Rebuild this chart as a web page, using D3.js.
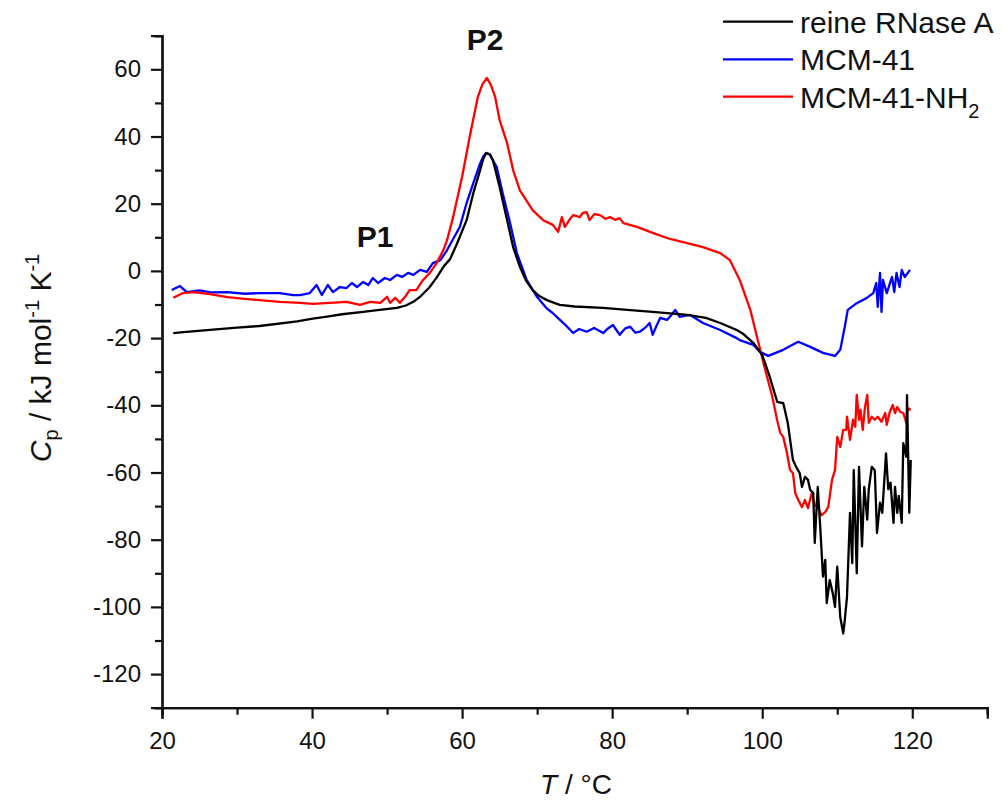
<!DOCTYPE html>
<html>
<head>
<meta charset="utf-8">
<script src="https://cdn.jsdelivr.net/npm/d3@7"></script>
<style>
  body { margin: 0; background: #fff; }
  svg { display: block; font-family: "Liberation Sans", Arial, sans-serif; }
</style>
</head>
<body>
<div id="chart"></div>
<script>
// reine RNase A
var tBlack = [21.5, 22.5, 26, 30, 33, 38, 40.1, 42, 44, 46.8, 49, 51.3, 52.5, 53.5, 54.4, 55.6, 56.6, 57.6, 58.4, 59.3, 60.6, 61.5, 62.4, 62.8, 63.2, 63.7, 64.1, 65, 66, 66.8, 67.7, 68.5, 69.4, 70.3, 71.3, 73, 75, 78.8, 82, 85.4, 90, 92.5, 94.4, 96.6, 97.5, 98.8, 100, 101, 102, 102.6, 102.8, 103.4, 104.1, 104.6, 105, 105.3, 105.7, 106.1, 106.4, 106.8, 107, 107.4, 107.7, 108.1, 108.4, 108.6, 109, 109.4, 109.7, 110, 110.4, 110.8, 111, 111.3, 111.7, 112, 112.2, 112.6, 112.9, 113.3, 113.6, 114, 114.2, 114.6, 115, 115.3, 115.7, 116, 116.5, 116.8, 117.1, 117.5, 117.7, 118, 118.2, 118.6, 118.8, 119.2, 119.3, 119.6, 119.8];
var cpBlack = [-18.5, -18.3, -17.6, -16.9, -16.4, -15, -14.2, -13.6, -12.9, -12.2, -11.6, -11, -10.3, -9.2, -7.7, -5, -2, 1.5, 3.5, 8, 15.1, 23.2, 30, 33.2, 35.1, 34.7, 33, 25, 15.1, 7.1, 1.2, -2.8, -5.7, -7.5, -8.7, -10.1, -10.6, -11, -11.6, -12.2, -13.1, -14, -15.5, -17.6, -18.8, -21.4, -25, -31.5, -39, -39.3, -39.3, -45.2, -56.3, -58.7, -60.2, -64.3, -61.3, -62.2, -65.2, -66.1, -81, -64.3, -75, -91, -86, -98.9, -92, -95.9, -100, -88, -103, -107.9, -104, -97, -72, -87, -59.3, -90, -58.3, -82, -64.3, -74, -65, -58.3, -59.3, -78, -69, -72, -54.3, -65, -63, -75, -64.3, -72, -67, -75, -51.3, -55.3, -37, -72, -56.3];

// MCM-41
var tBlue = [21.3, 22.4, 23.3, 25, 26.5, 28.7, 31, 33, 35.7, 37.5, 38.4, 39.7, 40.6, 41.3, 42.1, 42.8, 43.7, 44.6, 45.3, 46, 46.8, 47.5, 48.1, 48.8, 49.7, 50.4, 51.3, 52, 52.8, 53.5, 54.4, 55.3, 56.1, 57.1, 58, 58.8, 59.7, 60.6, 61.5, 62.4, 62.8, 63.2, 63.7, 64.2, 64.6, 65.4, 66.4, 67.3, 68.6, 70, 71.2, 72.1, 73, 74, 74.8, 75.6, 76.6, 77.6, 78.8, 79.4, 80.1, 81, 81.7, 82.4, 83.1, 83.7, 84.4, 85, 85.4, 85.9, 86.4, 87.3, 87.9, 88.4, 89, 90.4, 92.1, 94.4, 96.6, 97, 98.8, 99.7, 100.8, 102.8, 104.8, 106.4, 108.1, 109.7, 110.4, 111, 111.4, 112.6, 113.9, 114.8, 115.2, 115.4, 115.7, 115.9, 116.1, 116.6, 117.3, 117.6, 117.9, 118.3, 118.6, 119, 119.7];
var cpBlue = [-5.7, -4.5, -6.3, -5.8, -6.4, -6.3, -6.8, -6.6, -6.6, -7.2, -7.2, -6.6, -4.2, -7.2, -4.2, -6.3, -4.8, -5.1, -3.6, -4.8, -3.3, -4.2, -2.1, -3.6, -2.1, -2.7, -1.2, -1.8, -0.6, -1.2, 0.3, -0.3, 2.3, 3.2, 6.2, 9.5, 13.1, 20.2, 26.2, 32, 34, 35.1, 34.6, 32.5, 31, 23.2, 14.2, 5.3, -2.7, -7.8, -11, -12.6, -14.5, -16.6, -18.5, -17.3, -18.1, -17, -18.5, -17.2, -16.1, -19, -17.2, -16.6, -18.4, -18.1, -16.9, -15.5, -19, -16.4, -14, -14.6, -13.1, -11.6, -13.7, -13.1, -15.5, -17.6, -20, -20.6, -22, -24.1, -25.3, -23.5, -21.1, -22.6, -24.4, -25.3, -23.5, -16.7, -11.6, -9.6, -8.1, -6.6, -3.6, -10.7, -0.6, -12.2, -2.7, -6.6, -1.8, -6.3, -0.6, -4.8, 0.3, -1.8, 0.3];

// MCM-41-NH2
var tRed = [21.5, 22.8, 24.2, 26.4, 28.7, 31, 33, 35.7, 38.4, 40.1, 42.4, 44.6, 46.4, 47.7, 49.1, 50, 50.4, 51.1, 51.7, 52.4, 53, 53.9, 54.8, 55.7, 56.6, 57.5, 58, 58.8, 60, 61, 62.1, 62.7, 63.3, 63.8, 64.4, 65, 66, 66.8, 67.7, 69.4, 70.8, 72.1, 72.8, 73.3, 73.7, 74.3, 74.8, 75.7, 76.1, 76.6, 77, 77.6, 78.4, 79.1, 79.7, 80.4, 81, 81.5, 83.3, 85.4, 87.7, 90, 92.1, 94.4, 95.7, 97, 98.4, 99.5, 100.4, 101.3, 102, 102.4, 102.8, 103.3, 103.7, 104.1, 104.4, 104.8, 105.3, 105.7, 106.1, 106.6, 107, 107.4, 107.9, 108.4, 108.8, 109.3, 109.7, 110, 110.4, 110.8, 111.2, 111.3, 111.7, 112.1, 112.4, 112.6, 112.9, 113.1, 113.4, 113.7, 114, 114.2, 114.6, 115, 115.4, 115.9, 116.4, 116.6, 117, 117.4, 117.7, 118, 118.4, 118.8, 119.2, 119.4, 119.8];
var cpRed = [-8, -6.6, -6.3, -6.9, -7.8, -8.3, -8.7, -9.2, -9.5, -9.8, -9.5, -9.2, -10.1, -9.2, -9.5, -7.7, -9.5, -8, -9.5, -7.7, -5.7, -5.7, -2.7, -0.6, 2.3, 6.2, 9.2, 16, 28, 39.8, 51.8, 55.5, 57.4, 55.5, 51.8, 44.9, 38, 30, 24, 18.1, 15.1, 13.7, 11.6, 16, 13.1, 15.2, 16.6, 16, 17.3, 17.5, 15.1, 16.9, 16.6, 15.5, 16, 15.2, 15.7, 14.2, 13.1, 11.3, 9.5, 8.3, 7.1, 5.3, 3.2, -2.7, -11.5, -21.4, -29.5, -37, -44.5, -48.2, -49.4, -54.2, -59.2, -60.2, -66.1, -68.2, -70.3, -68.2, -70.6, -66.1, -69.7, -70.3, -72.7, -71.8, -70.3, -62.2, -59.3, -49.4, -52.4, -47.3, -47.3, -43.4, -50.3, -44.3, -46.4, -36.9, -44.3, -41.4, -47.3, -40.5, -36.9, -45.2, -43.4, -44.3, -43.4, -44.9, -42.3, -45.8, -42, -39.9, -42.3, -40.5, -42, -42.3, -45.2, -40.8, -41.4];

var seriesNames = ["reine RNase A", "MCM-41", "MCM-41-NH"];
var seriesColors = ["#000000", "#0000ff", "#ff0000"];
var xTicks = [20, 40, 60, 80, 100, 120];
var yTicks = [-120, -100, -80, -60, -40, -20, 0, 20, 40, 60];

var W = 1005, H = 801;
var svg = d3.select("#chart").append("svg").attr("width", W).attr("height", H);

var x = d3.scaleLinear().domain([20, 130]).range([162, 987.3]);
var y = d3.scaleLinear().domain([-130, 70]).range([707.7, 35.7]);

var series = [
  {t: tBlack, v: cpBlack},
  {t: tBlue, v: cpBlue},
  {t: tRed, v: cpRed}
];

var line = d3.line().x(function(d){ return x(d[0]); }).y(function(d){ return y(d[1]); });

// blue first, red next, black on top
[1, 2, 0].forEach(function(i){
  var pts = series[i].t.map(function(t, j){ return [t, series[i].v[j]]; });
  svg.append("path")
    .datum(pts)
    .attr("d", line)
    .attr("fill", "none")
    .attr("stroke", seriesColors[i])
    .attr("stroke-width", 2.3)
    .attr("stroke-linejoin", "round");
});

var fmt = function(d){ return String(d); }; // plain hyphen minus like the original

// minor ticks, then major ticks with labels, each in its own group
svg.append("g").attr("transform", "translate(0," + y(-130) + ")")
  .call(d3.axisBottom(x).tickValues(d3.range(30, 131, 20)).tickSize(7).tickFormat(""));
svg.append("g").attr("transform", "translate(0," + y(-130) + ")")
  .call(d3.axisBottom(x).tickValues(xTicks).tickSize(11).tickPadding(13).tickFormat(fmt));
svg.append("g").attr("transform", "translate(" + x(20) + ",0)")
  .call(d3.axisLeft(y).tickValues(d3.range(-130, 71, 20)).tickSize(7).tickFormat(""));
svg.append("g").attr("transform", "translate(" + x(20) + ",0)")
  .call(d3.axisLeft(y).tickValues(yTicks).tickSize(11).tickPadding(10).tickFormat(fmt));

svg.selectAll(".domain").attr("stroke", "#111").attr("stroke-width", 2.2);
svg.selectAll(".tick line").attr("stroke", "#111").attr("stroke-width", 2.2);
svg.selectAll(".tick text").attr("font-size", 24).attr("fill", "#111")
  .attr("font-family", "Liberation Sans, Arial, sans-serif");

// x title
var xt = svg.append("text").attr("x", 576).attr("y", 794).attr("text-anchor", "middle")
  .attr("font-size", 28).attr("fill", "#111");
xt.append("tspan").attr("font-style", "italic").text("T");
xt.append("tspan").text(" / °C");

// y title
var yt = svg.append("text").attr("transform", "translate(51,358) rotate(-90)")
  .attr("text-anchor", "middle").attr("font-size", 30).attr("fill", "#111");
yt.append("tspan").attr("font-style", "italic").text("C");
yt.append("tspan").attr("font-size", 20).attr("dy", 7).text("p");
yt.append("tspan").attr("dy", -7).text(" / kJ mol");
yt.append("tspan").attr("font-size", 20).attr("dy", -12).text("-1");
yt.append("tspan").attr("dy", 12).text(" K");
yt.append("tspan").attr("font-size", 20).attr("dy", -12).text("-1");

// peak labels
svg.append("text").attr("x", 375).attr("y", 247).attr("text-anchor", "middle")
  .attr("font-size", 30).attr("font-weight", "bold").attr("fill", "#111").text("P1");
svg.append("text").attr("x", 485).attr("y", 50).attr("text-anchor", "middle")
  .attr("font-size", 30).attr("font-weight", "bold").attr("fill", "#111").text("P2");

// legend
var legY = [21.7, 59.3, 96.7];
seriesNames.forEach(function(name, i){
  svg.append("line").attr("x1", 723).attr("x2", 793).attr("y1", legY[i]).attr("y2", legY[i])
    .attr("stroke", seriesColors[i]).attr("stroke-width", 2.2);
  var t = svg.append("text").attr("x", 800).attr("y", legY[i] + 11)
    .attr("font-size", 30).attr("fill", "#111").text(name);
  if (i === 2) t.append("tspan").attr("font-size", 20).attr("dy", 10).text("2");
});
</script>
</body>
</html>
